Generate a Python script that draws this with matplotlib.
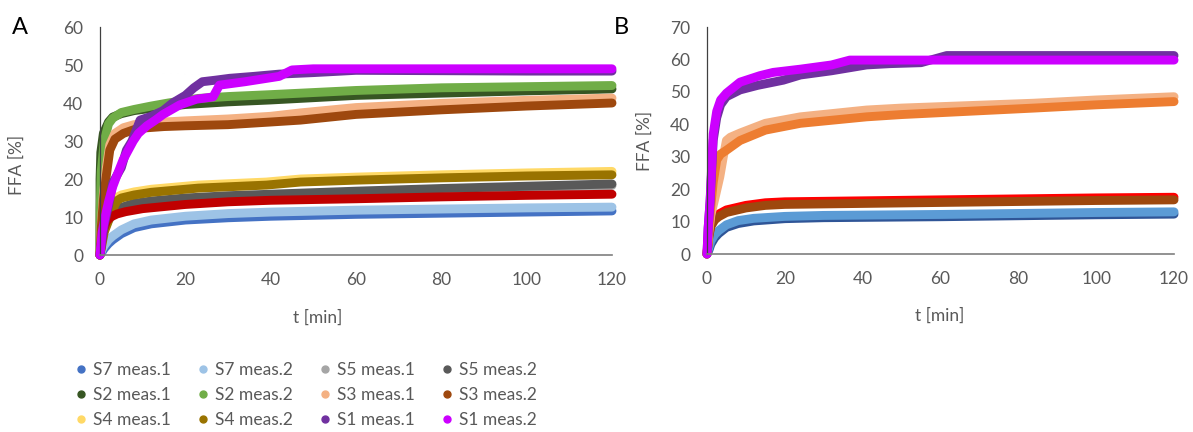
import matplotlib
matplotlib.use('Agg')
import matplotlib.pyplot as plt
from matplotlib.lines import Line2D

plt.rcParams['font.family'] = ['Lato', 'DejaVu Sans']

# ---------------- panel A data ----------------
tA_s7m1 = [0, 0.5, 1, 2, 3, 5, 8, 12, 20, 30, 40, 60, 80, 100, 120]
A_s7m1 = [0, 0.8, 1.7, 3, 4, 5.6, 7.2, 8.2, 9.2, 9.8, 10.2, 10.7, 11, 11.3, 11.6]
tA_s7m2 = [0, 0.5, 1, 2, 3, 5, 8, 12, 20, 30, 40, 60, 80, 100, 120]
A_s7m2 = [0, 1.5, 2.5, 4, 5, 6.6, 8.2, 9.2, 10.2, 10.9, 11.3, 11.8, 12.1, 12.4, 12.6]

tA_s5 = [0, 0.5, 1, 2, 3, 5, 8, 12, 20, 30, 40, 60, 80, 100, 120]
A_s5m1 = [0, 3.7, 6.6, 9.1, 10.6, 12.1, 13.2, 13.8, 14.6, 15.2, 15.6, 16.4, 17.1, 17.7, 18.3]
A_s5m2 = [0, 4, 7, 9.5, 11, 12.5, 13.6, 14.2, 15, 15.6, 16, 16.8, 17.5, 18.1, 18.7]

tA_s2m1 = [0, 0.02, 0.2, 0.8, 2, 3, 5, 8, 12, 20, 30, 40, 60, 80, 100, 120]
A_s2m1 = [0, 20, 27, 32, 35, 36.3, 37.2, 38, 38.6, 39.6, 40.3, 40.8, 42, 42.6, 43.2, 43.7]
tA_s2m2 = [0, 0.05, 0.3, 1, 2, 3, 5, 8, 12, 16, 23, 30, 40, 60, 80, 100, 120]
A_s2m2 = [0, 12, 22, 30, 34.5, 36, 37.5, 38.3, 39.2, 40, 41.2, 41.7, 42.2, 43.3, 44, 44.3, 44.6]

tA_s3 = [0, 0.3, 0.8, 1.5, 2.3, 3.5, 5.5, 8, 10, 15, 20, 30, 40, 47, 60, 80, 100, 120]
A_s3m1 = [0, 8, 16, 23, 29, 32, 33.5, 34.3, 34.6, 35, 35.3, 35.8, 36.5, 37.4, 38.8, 39.9, 40.7, 41.3]
A_s3m2 = [0, 7, 14.5, 21, 27.6, 30.5, 32, 33, 33.4, 33.8, 34, 34.3, 35, 35.5, 37, 38.2, 39.2, 40]

tA_s4 = [0, 1, 2, 3, 4, 5, 8, 12, 23, 39, 47, 60, 80, 100, 120]
A_s4m1 = [0, 7, 10, 13, 15.2, 15.8, 16.6, 17.3, 18.4, 19.2, 20, 20.5, 21.1, 21.6, 22]
A_s4m2 = [0, 6, 9, 12, 14.3, 15, 15.8, 16.5, 17.6, 18.4, 19.2, 19.7, 20.3, 20.8, 21.1]

tA_s6 = [0, 0.3, 0.8, 1.5, 2.5, 4, 6, 10, 20, 30, 40, 60, 80, 100, 120]
A_s6 = [0, 3, 6.6, 8.8, 10, 10.8, 11.4, 12.2, 13.3, 14, 14.4, 14.8, 15.3, 15.7, 16]

tA_s1m1 = [0, 0.5, 1, 2, 3, 4, 5, 6.2, 7.5, 9.4, 12, 14.8, 17, 20, 22, 24, 27, 30.4, 36, 42, 50, 60, 80, 100, 120]
A_s1m1 = [0, 4, 8, 13, 19, 21, 23, 27.6, 30, 35.5, 36.5, 38, 40, 42, 44, 45.6, 46, 46.5, 47, 47.6, 48, 48.6, 48.5, 48.4, 48.4]
tA_s1m2 = [0, 0.5, 1.2, 2, 3, 4, 5.4, 7.8, 9, 11, 13, 14.8, 18.7, 22.6, 26.5, 28, 34, 38, 42, 45, 50, 60, 80, 100, 120]
A_s1m2 = [0, 6, 10, 14, 18, 21, 25, 30, 32, 34, 35.5, 37, 39.5, 41, 41.6, 44.7, 45.6, 46.3, 47, 48.7, 49, 49, 49, 49, 49]

# ---------------- panel B data ----------------
tB_s1m1 = [0, 0.3, 0.8, 1.6, 2.5, 3.5, 5, 8.5, 13, 19.6, 24, 32, 41, 47, 55, 61.6, 80, 100, 120]
B_s1m1 = [0, 8, 16, 35, 42, 46, 48.5, 50.6, 52, 53.6, 55.2, 56.5, 58.3, 58.7, 59, 61.2, 61.2, 61.2, 61.2]
tB_s1m2 = [0, 0.3, 0.8, 1.6, 2.5, 3.5, 5, 8.5, 13.6, 17, 24, 32, 36.7, 45, 60, 80, 100, 120]
B_s1m2 = [0, 8, 16.6, 37, 44, 47.5, 49.6, 53, 55, 56, 57, 58.3, 59.8, 59.8, 59.8, 59.8, 59.8, 59.8]

tB_o1 = [0, 0.5, 1, 2, 3.3, 4.2, 5, 6, 8.5, 15, 24, 41, 50, 84, 100, 120]
B_o1 = [0, 7, 12, 17, 23.8, 30, 35, 36, 37.3, 40.3, 42.3, 44.4, 45, 46.5, 47.5, 48.5]
tB_o2 = [0, 0.5, 1, 1.6, 2.5, 3.5, 5, 8.5, 15, 24, 41, 50, 84, 100, 120]
B_o2 = [0, 8, 15, 22, 29, 30.8, 32, 35, 38.2, 40.3, 42.3, 43, 45, 46, 47]

tB_r = [0, 0.5, 1, 2, 3, 5, 10, 15, 20, 40, 60, 80, 100, 120]
B_red = [0, 6, 9, 11.3, 12.3, 13.6, 15, 15.8, 16.1, 16.4, 16.7, 17, 17.3, 17.5]
B_brown = [0, 5.5, 8.5, 10.5, 11.5, 12.8, 14.2, 15, 15.3, 15.6, 15.9, 16.2, 16.5, 16.7]

tB_b = [0, 0.5, 1, 2, 3, 5, 8, 12, 20, 30, 40, 60, 80, 100, 120]
B_blue = [0, 2, 4, 6, 7.2, 9, 10.3, 11, 11.6, 11.9, 12, 12.2, 12.5, 12.8, 13]
B_navy = [0, 1.2, 3, 5, 6.3, 8.2, 9.4, 10.2, 10.9, 11.2, 11.3, 11.5, 11.8, 12.1, 12.3]

# legend
leg_labels = ['S7 meas.1', 'S7 meas.2', 'S5 meas.1', 'S5 meas.2',
              'S2 meas.1', 'S2 meas.2', 'S3 meas.1', 'S3 meas.2',
              'S4 meas.1', 'S4 meas.2', 'S1 meas.1', 'S1 meas.2']
leg_colors = ['#4472C4', '#9DC3E6', '#A5A5A5', '#595959',
              '#375623', '#70AD47', '#F4B183', '#9E480E',
              '#FFD966', '#997300', '#7030A0', '#CC00FF']

txt = '#595959'
lw = 6.4

fig = plt.figure(figsize=(11.93, 4.32), dpi=100)
axA = fig.add_axes([0.0838, 0.4097, 0.4292, 0.5278])
axB = fig.add_axes([0.5926, 0.412, 0.3915, 0.5255])


def line(ax, t, v, c, w=lw):
    ax.plot(t, v, color=c, lw=w, solid_capstyle='round', solid_joinstyle='round', clip_on=False)


line(axA, tA_s7m1, A_s7m1, '#4472C4')
line(axA, tA_s7m2, A_s7m2, '#9DC3E6')
line(axA, tA_s5, A_s5m1, '#A5A5A5')
line(axA, tA_s5, A_s5m2, '#595959')
line(axA, tA_s2m1, A_s2m1, '#375623')
line(axA, tA_s2m2, A_s2m2, '#70AD47')
line(axA, tA_s3, A_s3m1, '#F4B183')
line(axA, tA_s3, A_s3m2, '#9E480E')
line(axA, tA_s4, A_s4m1, '#FFD966')
line(axA, tA_s4, A_s4m2, '#997300')
line(axA, tA_s6, A_s6, '#C00000')
line(axA, tA_s1m1, A_s1m1, '#7030A0')
line(axA, tA_s1m2, A_s1m2, '#CC00FF')

line(axB, tB_b, B_navy, '#2F5597')
line(axB, tB_b, B_blue, '#5B9BD5')
line(axB, tB_r, B_red, '#FF0000')
line(axB, tB_r, B_brown, '#9E480E')
line(axB, tB_o1, B_o1, '#F4B183')
line(axB, tB_o2, B_o2, '#ED7D31')
line(axB, tB_s1m1, B_s1m1, '#7030A0')
line(axB, tB_s1m2, B_s1m2, '#CC00FF')

for ax, ymax, step in [(axA, 60, 10), (axB, 70, 10)]:
    ax.set_xlim(0, 120)
    ax.set_ylim(0, ymax)
    ax.set_xticks(range(0, 121, 20))
    ax.set_yticks(range(0, ymax + 1, step))
    for s in ['top', 'right']:
        ax.spines[s].set_visible(False)
    ax.spines['left'].set_color('#404040')
    ax.spines['bottom'].set_color('#7F7F7F')
    ax.spines['left'].set_linewidth(0.9)
    ax.spines['bottom'].set_linewidth(1.2)
    ax.tick_params(length=0, labelsize=12.5, colors=txt, pad=12)
    ax.set_xlabel('t [min]', fontsize=12.5, color=txt)
    ax.set_ylabel('FFA [%]', fontsize=12.5, color=txt)

axA.xaxis.set_label_coords(0.426, -0.24)
axA.yaxis.set_label_coords(-0.146, 0.395)
axB.xaxis.set_label_coords(0.499, -0.235)
axB.yaxis.set_label_coords(-0.116, 0.50)

fig.text(20 / 1193, 1 - 27 / 432, 'A', fontsize=17, ha='center', va='center')
fig.text(621 / 1193, 1 - 27 / 432, 'B', fontsize=17, ha='center', va='center')

# legend, filled row by row
handles = [Line2D([], [], ls='none', marker='o', ms=5, color=c, label=l)
           for c, l in zip(leg_colors, leg_labels)]
order = [0, 4, 8, 1, 5, 9, 2, 6, 10, 3, 7, 11]
fig.legend([handles[i] for i in order], [leg_labels[i] for i in order],
           ncol=4, loc='upper left', bbox_to_anchor=(58 / 1193, 1 - 350 / 432),
           frameon=False, fontsize=12.5, handletextpad=0.1, handlelength=1.2,
           columnspacing=1.25, labelspacing=0.52, labelcolor=txt,
           borderpad=0.2)

plt.savefig('out.png', dpi=100)
